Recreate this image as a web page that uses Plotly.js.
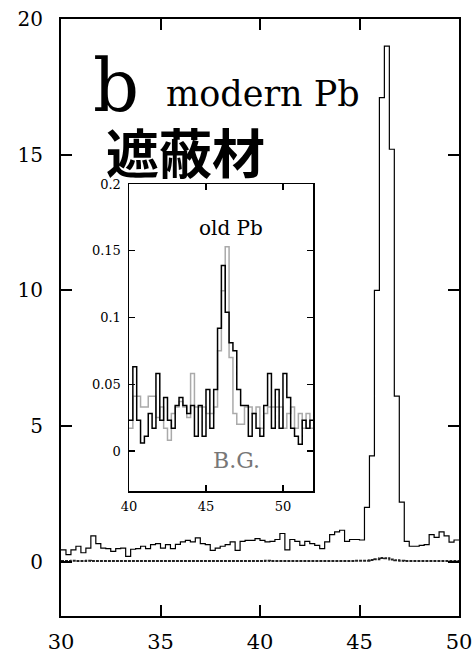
<!DOCTYPE html>
<html>
<head>
<meta charset="utf-8">
<script src="https://cdn.plot.ly/plotly-3.0.1.min.js"></script>
<style>html,body{margin:0;padding:0;background:#fff;}#chart{width:474px;height:654px;}</style>
</head>
<body>
<div id="chart"></div>
<script>
// ---- data ----
const mainBinStart = 30;
const mainBinWidth = 0.25;
const modernPb = [0.44,0.26,0.44,0.57,0.33,0.5,0.95,0.67,0.5,0.48,
  0.38,0.48,0.5,0.2,0.46,0.48,0.57,0.48,0.63,0.67,
  0.5,0.63,0.48,0.64,0.73,0.79,0.73,0.88,0.67,0.63,
  0.42,0.5,0.57,0.63,0.73,0.42,0.75,0.79,0.79,0.85,
  0.79,0.73,0.75,0.82,1.04,0.44,0.82,0.75,0.6,0.75,
  0.67,0.6,0.48,0.73,1.0,1.1,1.16,0.75,0.82,0.82,
  0.8,2.0,3.9,10.0,17.1,19.0,15.2,6.1,2.2,0.75,
  0.57,0.57,0.6,0.63,1.0,0.9,1.1,0.95,0.72,0.8];
const oldPbMain = [0.03,0.03,0.04,0.03,0.03,0.04,0.03,0.03,0.03,0.03,
  0.03,0.03,0.03,0.03,0.03,0.03,0.03,0.03,0.03,0.03,
  0.03,0.03,0.03,0.03,0.03,0.03,0.03,0.03,0.03,0.03,
  0.03,0.03,0.03,0.03,0.03,0.03,0.03,0.03,0.03,0.03,
  0.03,0.04,0.03,0.03,0.03,0.03,0.03,0.03,0.03,0.03,
  0.03,0.03,0.03,0.03,0.03,0.03,0.03,0.03,0.03,0.04,
  0.04,0.04,0.06,0.09,0.14,0.13,0.08,0.05,0.04,0.03,
  0.03,0.03,0.03,0.03,0.03,0.03,0.03,0.03,0.03,0.03];

const insetBinStart = 40;
const insetBinWidth = 0.25;
const insetOldPb = [0.023,0.063,0.023,0.006,0.011,0.028,0.017,0.058,0.023,0.040,
  0.023,0.017,0.034,0.040,0.034,0.028,0.034,0.011,0.034,0.011,
  0.046,0.017,0.046,0.092,0.139,0.104,0.081,0.075,0.046,0.034,
  0.034,0.011,0.028,0.017,0.011,0.034,0.058,0.017,0.046,0.017,
  0.058,0.040,0.017,0.011,0.005,0.023,0.017,0.023];
const insetBG = [0.017,0.041,0.041,0.033,0.033,0.041,0.041,0.025,0.033,0.017,
  0.008,0.028,0.033,0.037,0.033,0.025,0.058,0.033,0.033,0.033,
  0.028,0.028,0.033,0.075,0.12,0.153,0.07,0.028,0.02,0.02,
  0.033,0.033,0.028,0.033,0.017,0.028,0.033,0.033,0.033,0.033,
  0.017,0.028,0.033,0.017,0.028,0.017,0.028,0.017];

const mainTicksX = [30,35,40,45,50];
const mainTicksY = [0,5,10,15,20];
const insetTicksX = [40,45,50];
const insetTicksY = [0,0.05,0.1,0.15,0.2];
const insetTickTextY = ['0','0.05','0.1','0.15','0.2'];

function steps(start, width, vals){
  const x=[], y=[];
  vals.forEach((v,i)=>{x.push(start+i*width); y.push(v);});
  x.push(start+vals.length*width); y.push(vals[vals.length-1]);
  return {x, y};
}

const m1 = steps(mainBinStart, mainBinWidth, modernPb);
const m2 = steps(mainBinStart, mainBinWidth, oldPbMain);
const i1 = steps(insetBinStart, insetBinWidth, insetBG);
const i2 = steps(insetBinStart, insetBinWidth, insetOldPb);

const serif = 'DejaVu Serif';

const traces = [
  {x:m2.x, y:m2.y, type:'scatter', mode:'lines', line:{shape:'hv', color:'#222', width:2, dash:'3px,1px'}, xaxis:'x', yaxis:'y', hoverinfo:'skip'},
  {x:m1.x, y:m1.y, type:'scatter', mode:'lines', line:{shape:'hv', color:'#000', width:1.2}, xaxis:'x', yaxis:'y', hoverinfo:'skip'},
  {x:i1.x, y:i1.y, type:'scatter', mode:'lines', line:{shape:'hv', color:'#aaa', width:1.5}, xaxis:'x2', yaxis:'y2', hoverinfo:'skip'},
  {x:i2.x, y:i2.y, type:'scatter', mode:'lines', line:{shape:'hv', color:'#000', width:1.5}, xaxis:'x2', yaxis:'y2', hoverinfo:'skip'}
];

const L=61, R=459, T=19, B=616;
const px = v => (v-L)/(R-L);
const py = v => (B-v)/(B-T);

const layout = {
  width:474, height:654,
  margin:{l:L, r:474-R, t:T, b:654-B, pad:0},
  paper_bgcolor:'#fff', plot_bgcolor:'#fff',
  showlegend:false,
  font:{family:serif},
  xaxis:{domain:[0,1], range:[30,50], tickmode:'array', tickvals:mainTicksX,
    ticks:'inside', ticklen:11, tickwidth:2, tickcolor:'#000', mirror:'ticks',
    showline:true, linewidth:2, linecolor:'#000', showgrid:false, zeroline:false,
    tickfont:{family:serif, size:21, color:'#000'}, ticklabelstandoff:6, anchor:'y'},
  yaxis:{domain:[0,1], range:[-2,20], tickmode:'array', tickvals:mainTicksY,
    ticks:'inside', ticklen:11, tickwidth:2, tickcolor:'#000', mirror:'ticks',
    showline:true, linewidth:2, linecolor:'#000', showgrid:false, zeroline:false,
    tickfont:{family:serif, size:20, color:'#000'}, ticklabelstandoff:12, anchor:'x'},
  xaxis2:{domain:[px(129), px(313)], range:[40,51.95], tickmode:'array', tickvals:insetTicksX,
    ticks:'inside', ticklen:6, tickwidth:1.3, tickcolor:'#000', mirror:'ticks',
    showline:true, linewidth:1.5, linecolor:'#000', showgrid:false, zeroline:false,
    tickfont:{family:serif, size:13, color:'#000'}, ticklabelstandoff:3, anchor:'y2'},
  yaxis2:{domain:[py(491), py(184)], range:[-0.03,0.2], tickmode:'array', tickvals:insetTicksY, ticktext:insetTickTextY,
    ticks:'inside', ticklen:6, tickwidth:1.3, tickcolor:'#000', mirror:'ticks',
    showline:true, linewidth:1.5, linecolor:'#000', showgrid:false, zeroline:false,
    tickfont:{family:serif, size:13, color:'#000'}, ticklabelstandoff:4, anchor:'x2'},
  annotations:[
    {text:'b', xref:'paper', yref:'paper', x:px(116), y:py(86), xanchor:'center', yanchor:'middle', showarrow:false, font:{family:serif, size:72, color:'#000'}},
    {text:'modern Pb', xref:'paper', yref:'paper', x:px(263), y:py(94), xanchor:'center', yanchor:'middle', showarrow:false, font:{family:serif, size:35, color:'#000'}},
    {text:'遮蔽材', xref:'paper', yref:'paper', x:px(185), y:py(151), xanchor:'center', yanchor:'middle', showarrow:false, font:{family:'Noto Sans CJK JP', size:53, color:'#000', weight:700}},
    {text:'old Pb', xref:'paper', yref:'paper', x:px(231), y:py(228), xanchor:'center', yanchor:'middle', showarrow:false, font:{family:serif, size:20, color:'#000'}},
    {text:'B.G.', xref:'paper', yref:'paper', x:px(236), y:py(460), xanchor:'center', yanchor:'middle', showarrow:false, font:{family:serif, size:22, color:'#777'}}
  ]
};

Plotly.newPlot('chart', traces, layout, {staticPlot:true, displayModeBar:false});
</script>
</body>
</html>
